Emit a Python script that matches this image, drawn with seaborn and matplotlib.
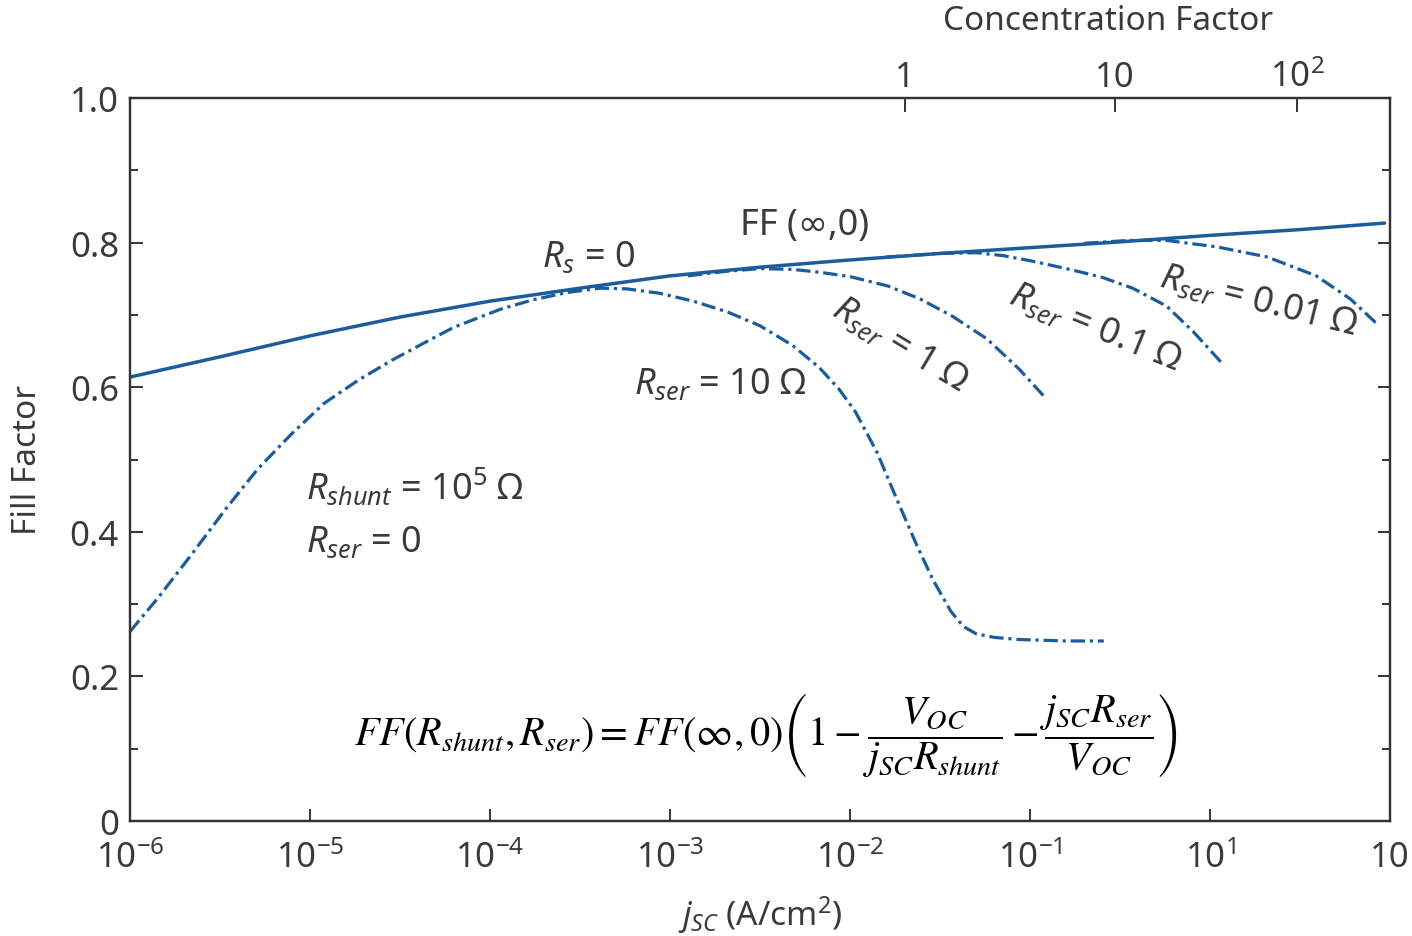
import numpy as np
import pandas as pd
import seaborn as sns
import matplotlib.pyplot as plt

# ---------------- data (x values are log10 of j_SC in A/cm^2) ----------------
logj_ff_inf = [-6.0, -5.5, -5.0, -4.5, -4.0, -3.5, -3.0, -2.5, -2.0, -1.5, -1.0, -0.5, 0.0, 0.5, 0.97]
ff_inf = [0.614, 0.642, 0.671, 0.697, 0.719, 0.737, 0.754, 0.766, 0.776, 0.785, 0.793, 0.801, 0.810, 0.818, 0.827]

logj_shunt = [-6.0, -5.84, -5.66, -5.47, -5.29, -5.1, -4.92, -4.73, -4.54, -4.36, -4.2, -3.94, -3.76, -3.57]
ff_shunt = [0.262, 0.310, 0.368, 0.431, 0.487, 0.536, 0.578, 0.610, 0.638, 0.662, 0.683, 0.708, 0.721, 0.731]

logj_r10 = [-3.39, -3.24, -3.06, -2.87, -2.68, -2.5, -2.32, -2.17, -2.06, -1.97, -1.85, -1.74,
            -1.63, -1.54, -1.44, -1.37, -1.3, -1.2, -1.06, -0.8, -0.59]
ff_r10 = [0.737, 0.736, 0.730, 0.719, 0.704, 0.685, 0.658, 0.627, 0.597, 0.566, 0.510, 0.445,
          0.382, 0.334, 0.290, 0.269, 0.259, 0.254, 0.251, 0.249, 0.249]

logj_r1 = [-2.9, -2.7, -2.5, -2.32, -2.17, -2.0, -1.79, -1.61, -1.43, -1.24, -1.06, -0.91]
ff_r1 = [0.754, 0.760, 0.764, 0.763, 0.759, 0.753, 0.740, 0.722, 0.698, 0.667, 0.625, 0.584]

logj_r01 = [-1.8, -1.5, -1.3, -1.15, -1.0, -0.78, -0.6, -0.43, -0.24, -0.09, 0.06]
ff_r01 = [0.780, 0.785, 0.786, 0.782, 0.775, 0.763, 0.752, 0.737, 0.712, 0.676, 0.635]

logj_r001 = [-0.7, -0.45, -0.24, 0.04, 0.32, 0.59, 0.78, 0.93]
ff_r001 = [0.799, 0.803, 0.803, 0.794, 0.780, 0.754, 0.722, 0.687]

x_ticks = [1e-6, 1e-5, 1e-4, 1e-3, 1e-2, 1e-1, 1e0, 1e1]
x_labels = [r'$10^{-6}$', r'$10^{-5}$', r'$10^{-4}$', r'$10^{-3}$', r'$10^{-2}$', r'$10^{-1}$', r'$10^{1}$', '10']
y_ticks = [0.0, 0.2, 0.4, 0.6, 0.8, 1.0]
y_labels = ['0', '0.2', '0.4', '0.6', '0.8', '1.0']
cf_positions = [0.0202, 0.296, 3.04]
cf_labels = ['1', '10', r'$10^2$']

# ---------------- style ----------------
sns.set_style('ticks')
plt.rcParams['font.family'] = ['Noto Sans', 'DejaVu Sans']
plt.rcParams['mathtext.fontset'] = 'custom'
plt.rcParams['mathtext.rm'] = 'Noto Sans'
plt.rcParams['mathtext.it'] = 'Noto Sans:italic'
plt.rcParams['mathtext.bf'] = 'Noto Sans:bold'

BLUE = '#1b5c9c'
TXT = '#3a3a3a'
DASHDOT = (0, (4.5, 1.5, 1.0, 1.5))

fig = plt.figure(figsize=(14.12, 9.37), dpi=100)
ax = fig.add_axes([130 / 1412, 1 - 822 / 937, 1260 / 1412, 723 / 937])

def curve(logj, ff, solid=False):
    df = pd.DataFrame({'jsc': 10 ** np.asarray(logj, dtype=float), 'ff': ff})
    if solid:
        sns.lineplot(data=df, x='jsc', y='ff', ax=ax, color=BLUE, linewidth=2.5,
                     estimator=None, sort=False)
    else:
        sns.lineplot(data=df, x='jsc', y='ff', ax=ax, color=BLUE, linewidth=2.3,
                     linestyle=DASHDOT, estimator=None, sort=False)

# shunt-limited branch continues smoothly into the R_ser = 10 ohm branch
curve(logj_shunt + logj_r10, ff_shunt + ff_r10)
curve(logj_r1, ff_r1)
curve(logj_r01, ff_r01)
curve(logj_r001, ff_r001)
curve(logj_ff_inf, ff_inf, solid=True)

ax.set_xscale('log')
ax.set_xlim(1e-6, 10)
ax.set_ylim(0, 1.0)
ax.set_xlabel('')
ax.set_ylabel('')

ax.set_xticks(x_ticks)
ax.set_xticklabels(x_labels)
ax.xaxis.set_minor_locator(plt.NullLocator())
ax.set_yticks(y_ticks)
ax.set_yticklabels(y_labels)
ax.set_yticks([0.1, 0.3, 0.5, 0.7, 0.9], minor=True)

for s in ax.spines.values():
    s.set_color('#333333')
    s.set_linewidth(1.6)

ax.tick_params(axis='both', which='major', direction='in', length=9, width=1.4,
               color='#333333', labelsize=25, labelcolor=TXT)
ax.tick_params(axis='y', which='both', right=True, direction='in', width=1.4, color='#333333')
ax.tick_params(axis='y', which='minor', length=6)
ax.tick_params(axis='y', which='major', pad=8)
ax.tick_params(axis='x', which='major', pad=14, top=False)

# top concentration-factor axis
ax2 = ax.twiny()
ax2.set_xscale('log')
ax2.set_xlim(ax.get_xlim())
ax2.set_xticks(cf_positions)
ax2.set_xticklabels(cf_labels)
ax2.xaxis.set_minor_locator(plt.NullLocator())
ax2.tick_params(axis='x', direction='in', length=10, width=1.4, color='#333333',
                labelsize=25, labelcolor=TXT, pad=3)
for s in ax2.spines.values():
    s.set_color('#333333')
    s.set_linewidth(1.6)

# axis titles
fig.text(760 / 1412, 1 - 915 / 937, r'$j_{SC}$ (A/cm$^2$)', ha='center', va='center',
         fontsize=24, color=TXT)
fig.text(28 / 1412, 1 - 460 / 937, 'Fill Factor', ha='center', va='center', rotation=90,
         fontsize=24, color=TXT)
fig.text(1108 / 1412, 1 - 22 / 937, 'Concentration Factor', ha='center', va='center',
         fontsize=24, color=TXT)

def ann(px, py, s, rot=0, ha='center', size=26):
    ax.text((px - 130) / 1260, (822 - py) / 723, s, transform=ax.transAxes, ha=ha, va='center',
            rotation=rot, rotation_mode='anchor', fontsize=size, color=TXT)

ann(588, 258, r'$R_s$ = 0')
ann(805, 226, 'FF (∞,0)')
ann(720, 385, r'$R_{ser}$ = 10 Ω')
ann(900, 345, r'$R_{ser}$ = $1$ $Ω$', rot=-31)
ann(1095, 328, r'$R_{ser}$ = $0.1$ $Ω$', rot=-22)
ann(1258, 302, r'$R_{ser}$ = $0.01$ $Ω$', rot=-14)
ann(306, 488, r'$R_{shunt}$ = 10$^5$ Ω', ha='left')
ann(306, 543, r'$R_{ser}$ = 0', ha='left')

formula = (r'$FF\left(R_{shunt},R_{ser}\right)=FF\left(\infty,0\right)'
           r'\left(1-\dfrac{V_{OC}}{j_{SC}R_{shunt}}-\dfrac{j_{SC}R_{ser}}{V_{OC}}\right)$')
ax.text((766 - 130) / 1260, (822 - 735) / 723, formula, transform=ax.transAxes,
        ha='center', va='center', fontsize=29, color='black', math_fontfamily='stix')

fig.savefig('out.png', dpi=100)
